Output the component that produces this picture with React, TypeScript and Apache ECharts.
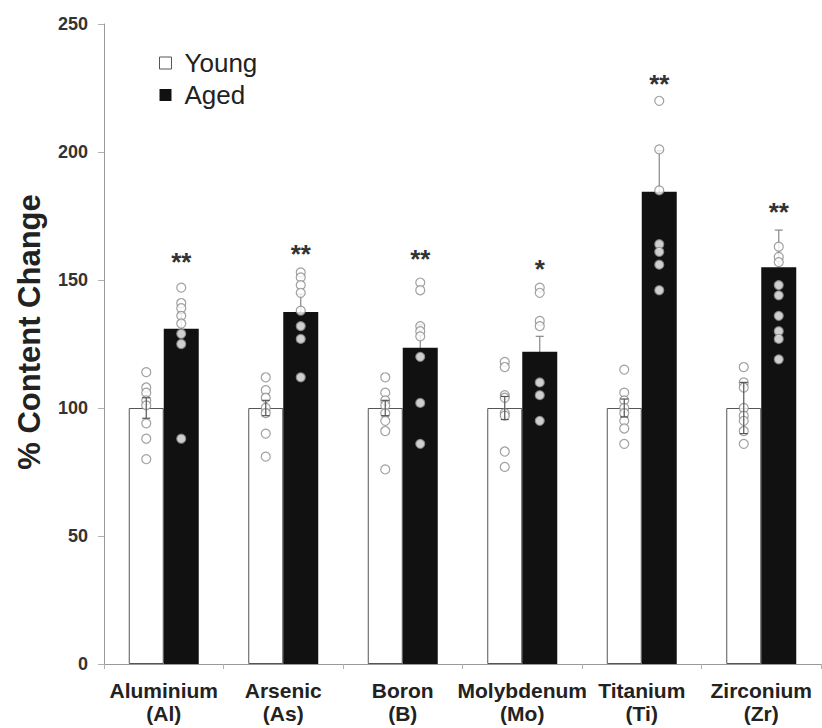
import React, { useEffect, useRef } from "react";
import * as echarts from "echarts";

// ---- data ----
const categories = [
  "Aluminium\n(Al)",
  "Arsenic\n(As)",
  "Boron\n(B)",
  "Molybdenum\n(Mo)",
  "Titanium\n(Ti)",
  "Zirconium\n(Zr)",
];
const youngMean = [100, 100, 100, 100, 100, 100];
const agedMean = [131, 137.5, 123.5, 122, 184.5, 155];
const youngSem = [4, 3, 3, 4.5, 3.5, 10];
const agedSem = [6, 7, 9, 6, 16, 14.5];

const youngPts = [
  [114, 108, 106, 103, 101, 94, 88, 80],
  [112, 107, 104, 100, 98, 90, 81],
  [112, 106, 103, 101, 98, 95, 91, 76],
  [118, 116, 105, 104, 98, 97, 83, 77],
  [115, 106, 103, 100, 98, 95, 92, 86],
  [116, 110, 108, 100, 97, 95, 91, 86],
];
const agedPts = [
  [147, 141, 139, 136, 133, 129, 125, 88],
  [153, 151, 148, 145, 138, 132, 127, 112],
  [149, 146, 132, 130, 128, 120, 102, 86],
  [147, 145, 134, 132, 110, 105, 95],
  [220, 201, 185, 164, 161, 156, 146],
  [163, 159, 157, 148, 144, 136, 130, 127, 119],
];
const sigMarks = ["**", "**", "**", "*", "**", "**"];
const sigLevel = [159.5, 162.5, 160.5, 156.5, 229, 179];

// ---- styles ----
const FONT = "'Liberation Sans', Arial, Helvetica, sans-serif";
const BAR_W = 35;
const HALF = BAR_W / 2;

export default function App() {
  const ref = useRef<HTMLDivElement>(null);

  useEffect(() => {
    if (!ref.current) return;
    const chart = echarts.init(ref.current, undefined, { renderer: "svg" });

    const errRender = (offset: number, color: string) => (params: any, api: any) => {
      const idx = api.value(0);
      const m = api.value(1);
      const s = api.value(2);
      const top = api.coord([idx, m + s]);
      const bot = api.coord([idx, m - s]);
      const x = top[0] + offset;
      const cap = 4;
      const st = { stroke: color, lineWidth: 1.2 };
      return {
        type: "group",
        children: [
          { type: "line", shape: { x1: x, y1: top[1], x2: x, y2: bot[1] }, style: st },
          { type: "line", shape: { x1: x - cap, y1: top[1], x2: x + cap, y2: top[1] }, style: st },
          { type: "line", shape: { x1: x - cap, y1: bot[1], x2: x + cap, y2: bot[1] }, style: st },
        ],
      };
    };

    const dotStyle = { color: "#ffffff", borderColor: "#8a8a8a", borderWidth: 1.2 };

    chart.setOption({
      animation: false,
      backgroundColor: "#ffffff",
      textStyle: { fontFamily: FONT },
      grid: { left: 104, right: 1, top: 24, bottom: 64, containLabel: false },
      legend: {
        orient: "vertical",
        left: 154,
        top: 45,
        itemWidth: 12,
        itemHeight: 12,
        itemGap: 6,
        icon: "rect",
        selectedMode: false,
        textStyle: { fontSize: 26, color: "#222", fontFamily: FONT, lineHeight: 26, padding: [0, 0, 0, 8] },
        data: [
          { name: "Young", itemStyle: { color: "#ffffff", borderColor: "#555", borderWidth: 1 } },
          { name: "Aged", itemStyle: { color: "#111111" } },
        ],
      },
      xAxis: {
        type: "category",
        data: categories,
        axisLine: { lineStyle: { color: "#9a9a9a", width: 1 } },
        axisTick: { show: true, alignWithLabel: false, length: 5, lineStyle: { color: "#b0b0b0" } },
        axisLabel: {
          interval: 0,
          margin: 15,
          fontSize: 21,
          fontWeight: "bold",
          color: "#222",
          lineHeight: 23,
          fontFamily: FONT,
        },
      },
      yAxis: {
        type: "value",
        min: 0,
        max: 250,
        interval: 50,
        splitLine: { show: false },
        axisLine: { show: true, lineStyle: { color: "#9a9a9a", width: 1 } },
        axisTick: { show: true, length: 6, lineStyle: { color: "#b0b0b0" } },
        axisLabel: { margin: 16, fontSize: 18, fontWeight: "bold", color: "#333", fontFamily: FONT },
      },
      graphic: [
        {
          type: "text",
          x: 29,
          y: 332,
          rotation: Math.PI / 2,
          style: {
            text: "% Content Change",
            font: `bold 31px ${FONT}`,
            fill: "#222",
            align: "center",
            verticalAlign: "middle",
          },
        },
      ],
      series: [
        {
          name: "Young",
          type: "bar",
          data: youngMean,
          barWidth: BAR_W,
          barGap: "0%",
          itemStyle: { color: "#ffffff", borderColor: "#555", borderWidth: 1 },
          z: 2,
        },
        {
          name: "Aged",
          type: "bar",
          data: agedMean,
          barWidth: BAR_W,
          barGap: "0%",
          itemStyle: { color: "#111111" },
          z: 2,
        },
        {
          type: "scatter",
          symbol: "circle",
          symbolSize: 9,
          symbolOffset: [-HALF, 0],
          itemStyle: dotStyle,
          data: youngPts.flatMap((arr, i) => arr.map((v) => [i, v])),
          z: 3,
        },
        {
          type: "scatter",
          symbol: "circle",
          symbolSize: 9,
          symbolOffset: [HALF, 0],
          itemStyle: dotStyle,
          data: agedPts.flatMap((arr, i) => arr.map((v) => [i, v])),
          z: 3,
        },
        {
          type: "custom",
          renderItem: errRender(-HALF, "#555"),
          data: youngMean.map((m, i) => [i, m, youngSem[i]]),
          z: 4,
        },
        {
          type: "custom",
          renderItem: errRender(HALF, "#888"),
          data: agedMean.map((m, i) => [i, m, agedSem[i]]),
          z: 1,
        },
        {
          type: "custom",
          renderItem: (params: any, api: any) => {
            const idx = api.value(0);
            const p = api.coord([idx, api.value(1)]);
            return {
              type: "text",
              x: p[0] + HALF,
              y: p[1] + 6,
              style: {
                text: sigMarks[idx],
                font: `bold 26px ${FONT}`,
                fill: "#333",
                align: "center",
                verticalAlign: "middle",
              },
            };
          },
          data: sigLevel.map((v, i) => [i, v]),
          z: 5,
        },
      ],
    });

    return () => chart.dispose();
  }, []);

  return (
    <div
      ref={ref}
      style={{ position: "fixed", left: 0, top: 0, width: 822, height: 728, background: "#fff" }}
    />
  );
}
